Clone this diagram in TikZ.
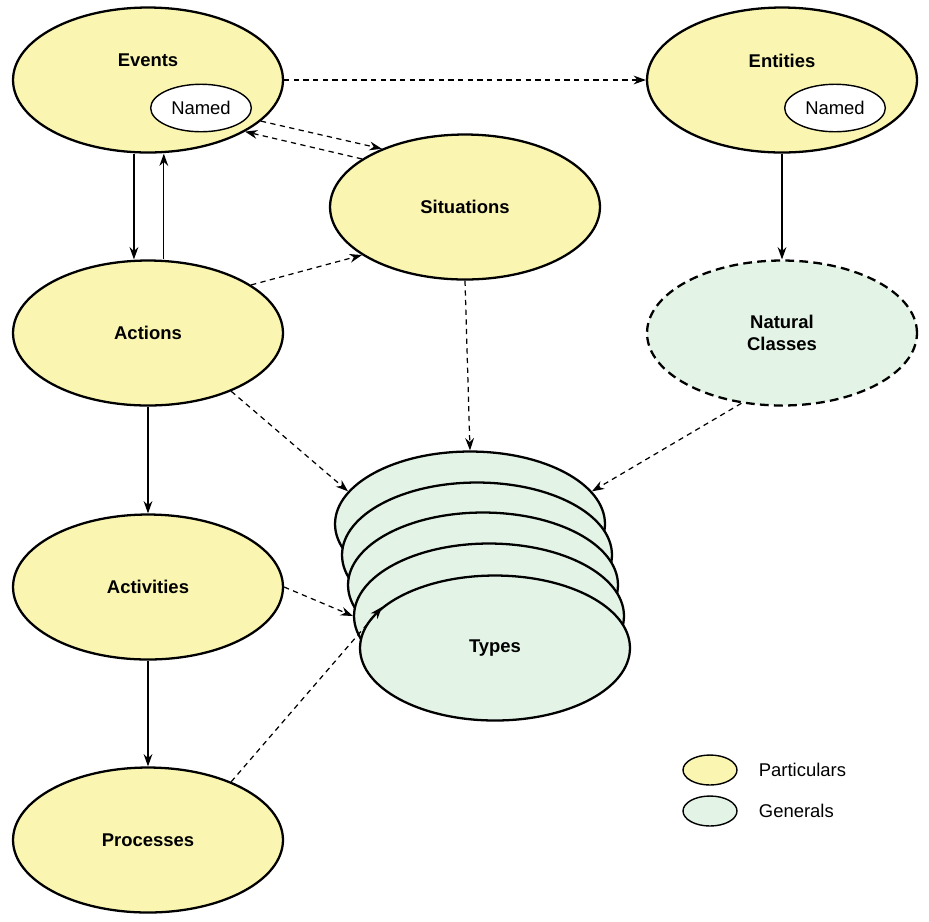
\documentclass[tikz,border=0pt]{standalone}
\usepackage{fontspec}
\setmainfont{Liberation Sans}
\usetikzlibrary{
	arrows.meta,
	positioning,
	calc,
	shapes.geometric
}
\definecolor{partfill}{HTML}{FAF6B2}
\definecolor{genfill}{HTML}{E3F4E7}

\begin{document}
\begin{tikzpicture}[
		x=0.02cm, y=-0.02cm,
		blob/.style={
			draw,
			ellipse,
			line width=1.3pt,
			minimum width=5.4cm,
			minimum height=2.9cm,
			font=\fontsize{10.5}{12.5}\selectfont\bfseries,
			align=center
		},
		part/.style={blob, fill=partfill},
		gen/.style={blob, fill=genfill},
		tag/.style={
			draw,
			ellipse,
			fill=white,
			line width=0.8pt,
			minimum width=1.9cm,
			minimum height=0.95cm,
			font=\fontsize{10.5}{12.5}\selectfont
		},
		key/.style={
			draw,
			ellipse,
			line width=0.8pt,
			minimum width=1.08cm,
			minimum height=0.6cm
		},
		link/.style={
			draw,
			-{Stealth[length=7pt,width=5pt]},
			line width=0.7pt},
		hint/.style={link, dash pattern=on 3pt off 2.5pt}
		]
		\useasboundingbox (0,0) rectangle (929,921);
		
		\node[part] (ev) at (148,80) {\raisebox{4ex}{Events}};
		\node[tag] (evn) at (201,108) {Named};
		\node[part] (en) at (782,80) {\raisebox{4ex}{Entities}};
		\node[tag] (enn) at (835,108) {Named};
		\node[part] (si) at (465,207) {Situations};
		\node[part] (ac) at (148,333) {Actions};
		\node[gen, dashed, dash pattern=on 5pt off 3pt] (nc) at (782,333) {Natural\\Classes};
		\node[part] (at) at (148,587) {Activities};
		\node[part] (pr) at (148,840) {Processes};
		
		% stack of types
		\foreach \i/\x/\y in {1/470/524, 2/477/555, 3/483/585, 4/489/616}
			\node[gen] (ty\i) at (\x,\y) {};
		\node[gen] (ty) at (495,648) {Types};
		
		% legend
		\node[key, fill=partfill] (kp) at (710,770) {};
		\node[right = 0.3cm of kp, font=\fontsize{10.5}{12.5}\selectfont] (kpt) {Particulars};
		\node[key, fill=genfill] (kg) at (710,811) {};
		\node[right = 0.3cm of kg, font=\fontsize{10.5}{12.5}\selectfont] (kgt) {Generals};
		
		\draw[hint] (ev.east) -- (en.west);
		\draw[hint] (ev.-20) -- (si.145);
		\draw[hint] (si.155) -- (ev.-28);
		\draw[link] ([xshift=-8] ev.south) -- ([xshift=-8] ac.north);
		\draw[link] ([xshift=9] ac.north) -- ([xshift=9] ev.south);
		\draw[link] (en.south) -- (nc.north);
		\draw[hint] (ac.25) -- (si.205);
		\draw[hint] (si.270) -- (ty1.north);
		\draw[hint] (ac.-35) -- (ty1.165);
		\draw[hint] (nc.-120) -- (ty1.15);
		\draw[link] (ac.south) -- (at.north);
		\draw[hint] (at.east) -- (ty4.west);
		\draw[link] (at.south) -- (pr.north);
		\draw[hint] (pr.35) -- (ty.160);
	\end{tikzpicture}
\end{document}
